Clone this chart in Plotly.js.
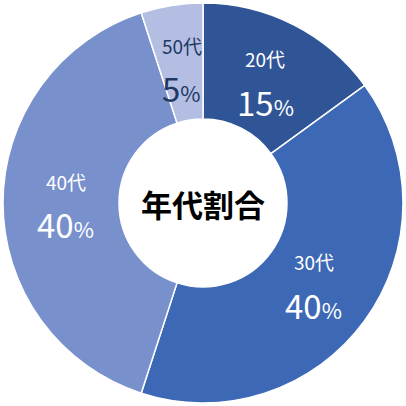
<!DOCTYPE html>
<html>
<head>
<meta charset="utf-8">
<script src="https://cdn.plot.ly/plotly-3.0.1.min.js"></script>
<style>html,body{margin:0;padding:0;background:#fff;}</style>
</head>
<body>
<div id="chart" style="width:406px;height:406px;"></div>
<script>
"use strict";

const ageGroups = ['20代', '30代', '40代', '50代'];
const shares = [15, 40, 40, 5];
const sliceColors = ['#2f5597', '#3d68b6', '#7891cd', '#b3bee2'];
const textColors = ['#ffffff', '#ffffff', '#ffffff', '#1f3864'];

const FONT = 'Noto Sans CJK JP, Noto Sans, sans-serif';

let trace = {
  type: 'pie',
  labels: ageGroups,
  values: shares,
  hole: 0.42,
  sort: false,
  direction: 'clockwise',
  rotation: 0,
  marker: {
    colors: sliceColors,
    line: {color: '#ffffff', width: 1.5}
  },
  textinfo: 'none',
  hoverinfo: 'none',
  showlegend: false
};

// labels sit at the middle angle of each slice, inside the ring
let annotations = [];
let total = shares.reduce((a, b) => a + b, 0);
let cum = 0;
ageGroups.forEach((g, i) => {
  let mid = (cum + shares[i] / 2) / total * 2 * Math.PI;
  cum += shares[i];
  let x = 0.5 + 0.343 * Math.sin(mid);
  let y = 0.5 + 0.343 * Math.cos(mid);
  annotations.push({
    text: g, x: x, y: y, xref: 'paper', yref: 'paper',
    xanchor: 'center', yanchor: 'middle',
    yshift: 22, showarrow: false,
    font: {family: FONT, size: 19, color: textColors[i]}
  });
  annotations.push({
    text: shares[i] + '<span style="font-size:22px">%</span>',
    x: x, y: y, xref: 'paper', yref: 'paper',
    xanchor: 'center', yanchor: 'middle',
    yshift: -21, showarrow: false,
    font: {family: FONT, size: 33, color: textColors[i]}
  });
});

annotations.push({
  text: '<b>年代割合</b>',
  x: 0.5, y: 0.5, xref: 'paper', yref: 'paper',
  xanchor: 'center', yanchor: 'middle',
  showarrow: false,
  font: {family: FONT, size: 31, color: '#000000'}
});

let layout = {
  width: 406,
  height: 406,
  margin: {l: 3, r: 3, t: 3, b: 3},
  paper_bgcolor: '#ffffff',
  annotations: annotations
};

Plotly.newPlot('chart', [trace], layout, {staticPlot: true});
</script>
</body>
</html>
